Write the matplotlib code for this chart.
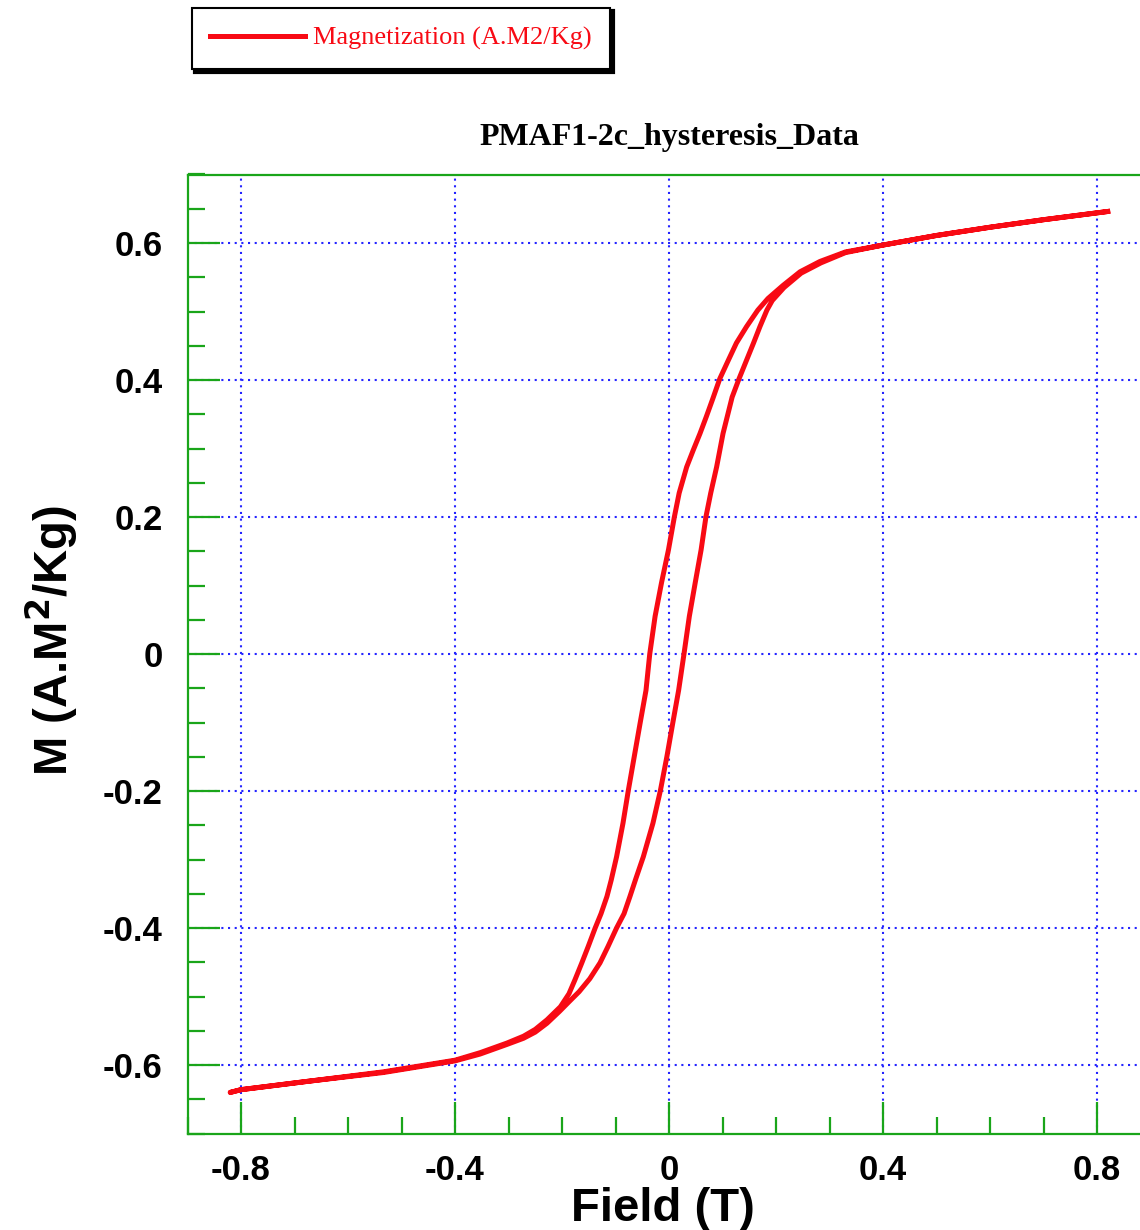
import matplotlib
matplotlib.use("Agg")
import matplotlib.pyplot as plt
from matplotlib.ticker import MultipleLocator, FixedLocator, FixedFormatter

plt.rcParams['axes.unicode_minus'] = False

# ---- data ----
# descending-field branch (from +0.82 T down to -0.82 T)
field_desc = [0.82, 0.80, 0.70, 0.60, 0.50, 0.40, 0.33, 0.282, 0.245, 0.213, 0.185,
              0.166, 0.145, 0.126, 0.111, 0.095, 0.082, 0.070, 0.058, 0.045, 0.033,
              0.019, 0.010, -0.001, -0.014, -0.026, -0.036, -0.043, -0.054, -0.065,
              -0.076, -0.086, -0.098, -0.108, -0.116, -0.127, -0.138, -0.151, -0.163,
              -0.176, -0.187, -0.203, -0.228, -0.250, -0.272, -0.303, -0.353, -0.400,
              -0.534, -0.677, -0.80, -0.82]
magn_desc = [0.646, 0.644, 0.634, 0.623, 0.611, 0.597, 0.587, 0.573, 0.558, 0.538, 0.519,
             0.502, 0.478, 0.454, 0.429, 0.402, 0.373, 0.347, 0.322, 0.297, 0.273,
             0.235, 0.200, 0.152, 0.104, 0.055, 0.000, -0.053, -0.101, -0.150,
             -0.199, -0.247, -0.296, -0.330, -0.354, -0.379, -0.400, -0.427, -0.451,
             -0.476, -0.496, -0.515, -0.534, -0.548, -0.558, -0.568, -0.582, -0.593,
             -0.610, -0.624, -0.636, -0.640]

# ascending-field branch (from -0.82 T up to +0.82 T)
field_asc = [-0.82, -0.80, -0.677, -0.534, -0.400, -0.353, -0.303, -0.272, -0.250,
             -0.228, -0.205, -0.186, -0.168, -0.148, -0.129, -0.114, -0.098, -0.084,
             -0.073, -0.062, -0.048, -0.030, -0.016, -0.004, 0.007, 0.018, 0.028,
             0.038, 0.049, 0.060, 0.069, 0.078, 0.089, 0.101, 0.110, 0.118, 0.131,
             0.145, 0.158, 0.170, 0.183, 0.193, 0.215, 0.247, 0.284, 0.33, 0.40,
             0.50, 0.60, 0.70, 0.80, 0.82]
magn_asc = [-0.640, -0.636, -0.624, -0.611, -0.594, -0.584, -0.570, -0.561, -0.552,
            -0.539, -0.522, -0.507, -0.493, -0.474, -0.451, -0.427, -0.400, -0.379,
            -0.354, -0.328, -0.296, -0.247, -0.199, -0.150, -0.101, -0.053, 0.000,
            0.055, 0.104, 0.152, 0.200, 0.235, 0.273, 0.322, 0.350, 0.375, 0.402,
            0.429, 0.454, 0.478, 0.502, 0.516, 0.535, 0.556, 0.571, 0.586, 0.597,
            0.611, 0.623, 0.634, 0.644, 0.646]

series_label = "Magnetization (A.M2/Kg)"
title_text = "PMAF1-2c_hysteresis_Data"
x_label = "Field (T)"
y_label = r"M (A.M$^\mathbf{2}$/Kg)"
x_ticks = [-0.8, -0.4, 0.0, 0.4, 0.8]
x_tick_labels = ["-0.8", "-0.4", "0", "0.4", "0.8"]
y_ticks = [-0.6, -0.4, -0.2, 0.0, 0.2, 0.4, 0.6]
y_tick_labels = ["-0.6", "-0.4", "-0.2", "0", "0.2", "0.4", "0.6"]

# ---- figure ----
W, H = 1140, 1230
fig = plt.figure(figsize=(W / 100, H / 100), dpi=100)
fig.patch.set_facecolor("white")

left, right, top, bottom = 187.5, 1150.5, 174.5, 1133.5
ax = fig.add_axes([left / W, 1 - bottom / H, (right - left) / W, (bottom - top) / H])

green = "#1aa51a"
red = "#f80a14"
blue = "#2424ff"

ax.plot(field_desc + field_asc, magn_desc + magn_asc, color=red, lw=3.6,
        solid_joinstyle="round", label=series_label, zorder=3)

ax.set_xlim(-0.9, 0.9)
ax.set_ylim(-0.7, 0.7)

ax.xaxis.set_major_locator(FixedLocator(x_ticks))
ax.xaxis.set_major_formatter(FixedFormatter(x_tick_labels))
ax.yaxis.set_major_locator(FixedLocator(y_ticks))
ax.yaxis.set_major_formatter(FixedFormatter(y_tick_labels))
ax.xaxis.set_minor_locator(MultipleLocator(0.1))
ax.yaxis.set_minor_locator(MultipleLocator(0.05))

for s in ["top", "bottom", "left"]:
    ax.spines[s].set_color(green)
    ax.spines[s].set_linewidth(1.6)
ax.spines["right"].set_visible(False)

ax.tick_params(which="both", direction="in", color=green, top=False, right=False)
ax.tick_params(which="major", length=23, width=1.6)
ax.tick_params(which="minor", length=12, width=1.6)
ax.tick_params(axis="x", which="major", pad=15)
ax.tick_params(axis="y", which="major", pad=18)

for lab in ax.get_xticklabels() + ax.get_yticklabels():
    lab.set_fontfamily("Liberation Sans")
    lab.set_fontweight("bold")
    lab.set_fontsize(25)

ax.grid(True, which="major", color=blue, linestyle=(0, (1, 2.2)), linewidth=1.5)
ax.set_axisbelow(True)

ax.set_xlabel(x_label, fontsize=34, fontweight="bold", family="Liberation Sans", labelpad=0)
ax.xaxis.label.set_x((663 - left) / (right - left))
ax.set_ylabel(y_label, fontsize=34, fontweight="bold", family="Liberation Sans")
ax.yaxis.set_label_coords((80 - left) / (right - left), (bottom - 640) / (bottom - top))
ax.set_title(title_text, fontsize=23, fontweight="bold", family="Liberation Serif", pad=21)

leg = fig.legend(loc="upper left", bbox_to_anchor=(192 / W, 1 - 8 / H),
                 bbox_transform=fig.transFigure, borderaxespad=0,
                 prop={"family": "Liberation Serif", "size": 19},
                 labelcolor=red, handlelength=3.6, handletextpad=0.3,
                 borderpad=0.7, fancybox=False, framealpha=1,
                 shadow={"color": "black", "alpha": 1, "linewidth": 3})
leg.get_frame().set_edgecolor("black")
leg.get_frame().set_linewidth(1.5)

fig.savefig("out.png", dpi=100, facecolor="white")
